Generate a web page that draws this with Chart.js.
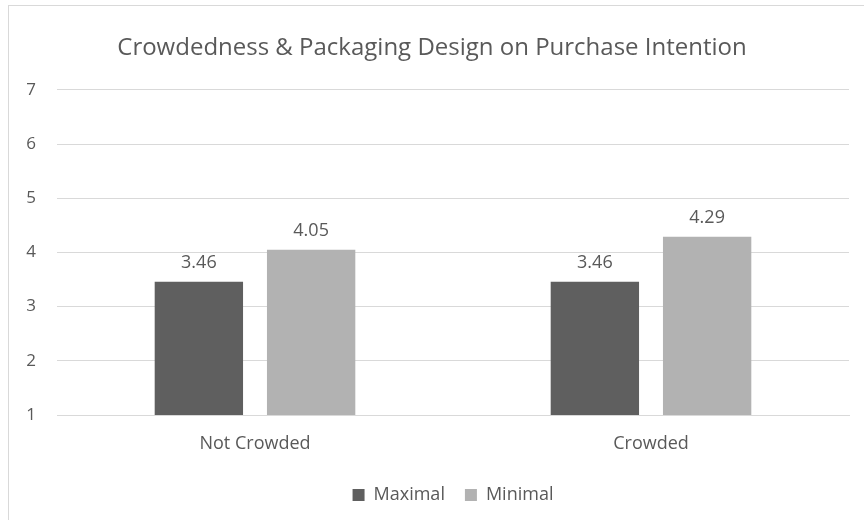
<!DOCTYPE html>
<html>
<head>
<meta charset="utf-8">
<script src="https://cdn.jsdelivr.net/npm/chart.js@4"></script>
<style>
  body { margin: 0; background: #fff; }
  #wrap { width: 864px; height: 520px; }
</style>
</head>
<body>
<div id="wrap"><canvas id="chart"></canvas></div>
<script>
// 데이터
var categories = ['Not Crowded', 'Crowded'];
var maximal = [3.46, 3.46];
var minimal = [4.05, 4.29];
var yTicks = [1, 2, 3, 4, 5, 6, 7];

var textColor = '#595959';
var gridColor = '#d9d9d9';

// 막대 위 값 표시
var valueLabels = {
  id: 'valueLabels',
  afterDatasetsDraw: function (chart) {
    var ctx = chart.ctx;
    ctx.save();
    ctx.font = '18px "Open Sans"';
    ctx.fillStyle = textColor;
    ctx.textAlign = 'center';
    ctx.textBaseline = 'middle';
    chart.data.datasets.forEach(function (ds, i) {
      chart.getDatasetMeta(i).data.forEach(function (bar, j) {
        ctx.fillText(ds.data[j].toFixed(2), bar.x, bar.y - 19);
      });
    });
    ctx.restore();
  }
};

// 바깥 테두리
var frame = {
  id: 'frame',
  beforeDraw: function (chart) {
    var ctx = chart.ctx;
    ctx.save();
    ctx.strokeStyle = gridColor;
    ctx.lineWidth = 1;
    ctx.strokeRect(8.5, 5.5, 900, 600);
    ctx.restore();
  }
};

var ctx = document.getElementById('chart');
var myChart = new Chart(ctx, {
  type: 'bar',
  data: {
    labels: categories,
    datasets: [
      {
        label: 'Maximal',
        data: maximal,
        backgroundColor: '#5f5f5f',
        categoryPercentage: 0.567,
        barPercentage: 0.787
      },
      {
        label: 'Minimal',
        data: minimal,
        backgroundColor: '#b2b2b2',
        categoryPercentage: 0.567,
        barPercentage: 0.787
      }
    ]
  },
  options: {
    responsive: true,
    maintainAspectRatio: false,
    animation: false,
    layout: { padding: { top: 20, right: 15, bottom: 6, left: 15 } },
    plugins: {
      title: {
        display: true,
        text: 'Crowdedness & Packaging Design on Purchase Intention',
        color: textColor,
        font: { family: 'Open Sans', size: 24, weight: 'normal' },
        padding: { top: 14, bottom: 27 }
      },
      legend: {
        position: 'bottom',
        fullSize: false,
        labels: {
          color: textColor,
          font: { family: 'Open Sans', size: 18 },
          boxWidth: 12,
          boxHeight: 12,
          padding: 20
        }
      },
      tooltip: { enabled: false }
    },
    scales: {
      x: {
        grid: { display: false },
        border: { color: gridColor },
        ticks: {
          color: textColor,
          font: { family: 'Open Sans', size: 18 },
          padding: 10
        },
        afterFit: function (scale) { scale.height = 51; }
      },
      y: {
        min: 1,
        max: 7,
        border: { display: false },
        grid: { color: gridColor, drawTicks: false },
        afterBuildTicks: function (scale) {
          scale.ticks = yTicks.map(function (v) { return { value: v }; });
        },
        ticks: {
          color: textColor,
          font: { family: 'Open Sans', size: 17 },
          padding: 21
        },
        afterFit: function (scale) { scale.width = 42; }
      }
    }
  },
  plugins: [frame, valueLabels]
});
</script>
</body>
</html>
